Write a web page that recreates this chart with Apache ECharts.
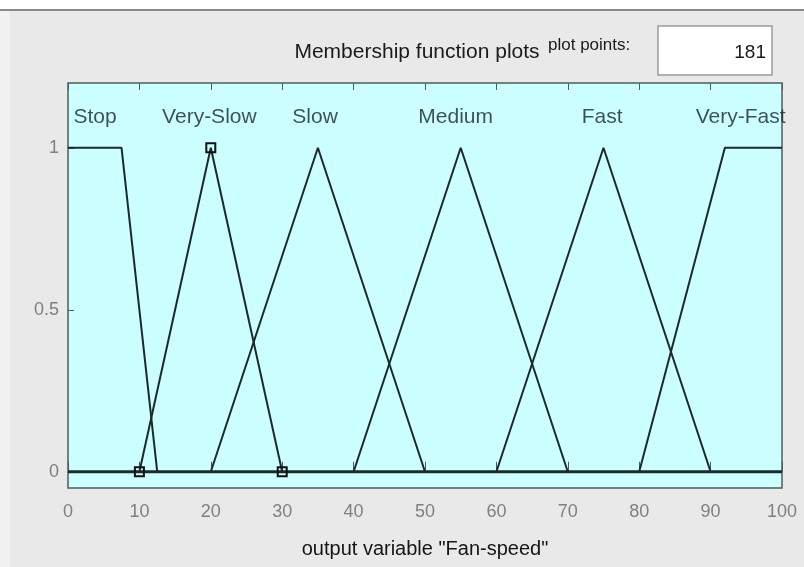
<!DOCTYPE html>
<html>
<head>
<meta charset="utf-8">
<script src="https://cdn.jsdelivr.net/npm/echarts@6/dist/echarts.min.js"></script>
<style>
  html, body { margin: 0; padding: 0; background: #fff; }
  #main { width: 804px; height: 567px; }
</style>
</head>
<body>
<div id="main"></div>
<script>
// membership functions of output variable "Fan-speed"
var mfNames = ['Stop', 'Very-Slow', 'Slow', 'Medium', 'Fast', 'Very-Fast'];
var stopX = [0, 7.5, 12.5];
var stopY = [1, 1, 0];
var verySlowX = [10, 20, 30];
var verySlowY = [0, 1, 0];
var slowX = [20, 35, 50];
var slowY = [0, 1, 0];
var mediumX = [40, 55, 70];
var mediumY = [0, 1, 0];
var fastX = [60, 75, 90];
var fastY = [0, 1, 0];
var veryFastX = [80, 92, 100];
var veryFastY = [0, 1, 1];
var zeroX = [0, 100];
var zeroY = [0, 0];
// name labels above the curves
var labelX = [3.8, 19.8, 34.6, 54.3, 74.8, 94.2];
var labelY = [1.095, 1.095, 1.095, 1.095, 1.095, 1.095];
var yTicks = [0, 0.5, 1];
var plotPoints = 181;

var lineColor = '#1c2a2a';
var fontName = '"Liberation Sans", Arial, sans-serif';

function zip(xs, ys) {
  var out = [];
  for (var i = 0; i < xs.length; i++) {
    out.push([xs[i], ys[i]]);
  }
  return out;
}

function mfSeries(name, xs, ys, marked) {
  return {
    name: name,
    type: 'line',
    data: zip(xs, ys),
    symbol: marked ? 'rect' : 'none',
    symbolSize: 9,
    showSymbol: !!marked,
    itemStyle: { color: 'rgba(0,0,0,0)', borderColor: '#111', borderWidth: 2 },
    lineStyle: { color: lineColor, width: 2 },
    animation: false,
    z: marked ? 4 : 3
  };
}

var chart = echarts.init(document.getElementById('main'));

function setOption(chart) {
  var labelData = [];
  for (var i = 0; i < mfNames.length; i++) {
    labelData.push({ value: [labelX[i], labelY[i]], name: mfNames[i] });
  }
  var option = {
    backgroundColor: '#e9e9e9',
    animation: false,
    textStyle: { fontFamily: fontName },
    grid: {
      left: 68,
      right: 22,
      top: 83,
      bottom: 79,
      show: true,
      backgroundColor: '#ccffff',
      borderColor: '#4d5c5c',
      borderWidth: 1.5
    },
    xAxis: [{
      type: 'value',
      min: 0,
      max: 100,
      interval: 10,
      position: 'bottom',
      name: 'output variable "Fan-speed"',
      nameLocation: 'middle',
      nameGap: 51,
      nameTextStyle: { color: '#151515', fontSize: 20, fontFamily: fontName },
      axisLine: { show: false },
      axisTick: { inside: true, length: 10, lineStyle: { color: '#4d5c5c', width: 1 } },
      axisLabel: { color: '#808080', fontSize: 18, margin: 15, fontFamily: fontName },
      splitLine: { show: false }
    }, {
      type: 'value',
      min: 0,
      max: 100,
      interval: 10,
      position: 'top',
      axisLine: { show: false },
      axisTick: { inside: true, length: 7, lineStyle: { color: '#4d5c5c', width: 1 } },
      axisLabel: { show: false },
      splitLine: { show: false }
    }],
    yAxis: {
      type: 'value',
      min: -0.05,
      max: 1.2,
      axisLine: { show: false },
      axisTick: { inside: true, length: 6, customValues: yTicks, lineStyle: { color: '#4d5c5c' } },
      axisLabel: { customValues: yTicks, color: '#808080', fontSize: 18, margin: 9, fontFamily: fontName },
      splitLine: { show: false }
    },
    graphic: [
      { type: 'rect', shape: { x: 0, y: 0, width: 804, height: 10 }, style: { fill: '#ffffff' } },
      { type: 'rect', shape: { x: 0, y: 9, width: 804, height: 2 }, style: { fill: '#8a8a8a' } },
      { type: 'rect', shape: { x: 0, y: 11, width: 10, height: 556 }, style: { fill: '#f1f1f1' } },
      { type: 'text', x: 417, y: 52, style: { text: 'Membership function plots', fill: '#1a1a1a', font: '21px ' + fontName, textAlign: 'center', textVerticalAlign: 'middle' } },
      { type: 'text', x: 548, y: 45, style: { text: 'plot points:', fill: '#1a1a1a', font: '17px ' + fontName, textAlign: 'left', textVerticalAlign: 'middle' } },
      { type: 'rect', shape: { x: 658, y: 26, width: 114, height: 49 }, style: { fill: '#ffffff', stroke: '#9a9a9a', lineWidth: 1.5 } },
      { type: 'text', x: 766, y: 53, style: { text: String(plotPoints), fill: '#1a1a1a', font: '19px ' + fontName, textAlign: 'right', textVerticalAlign: 'middle' } }
    ],
    series: [
      {
        name: 'zero',
        type: 'line',
        data: zip(zeroX, zeroY),
        symbol: 'none',
        lineStyle: { color: lineColor, width: 3 },
        z: 2
      },
      mfSeries('Stop', stopX, stopY, false),
      mfSeries('Very-Slow', verySlowX, verySlowY, true),
      mfSeries('Slow', slowX, slowY, false),
      mfSeries('Medium', mediumX, mediumY, false),
      mfSeries('Fast', fastX, fastY, false),
      mfSeries('Very-Fast', veryFastX, veryFastY, false),
      {
        name: 'labels',
        type: 'scatter',
        data: labelData,
        symbolSize: 0,
        label: {
          show: true,
          position: 'inside',
          formatter: function (p) { return p.name; },
          color: '#16262a',
          fontSize: 21,
          fontFamily: fontName
        },
        silent: true
      }
    ]
  };
  chart.setOption(option);
}

setOption(chart);
</script>
</body>
</html>
